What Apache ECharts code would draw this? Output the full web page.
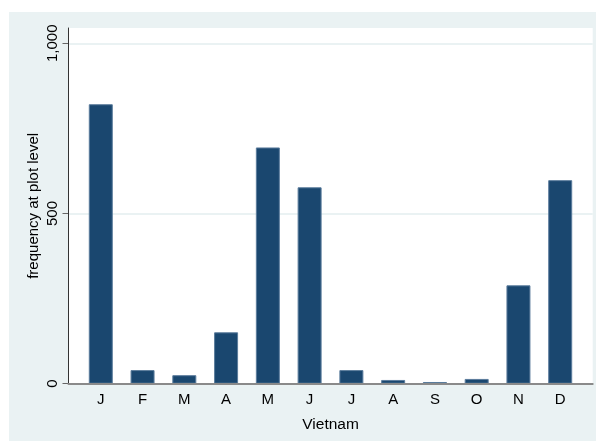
<!DOCTYPE html>
<html>
<head>
<meta charset="utf-8">
<script src="https://cdn.jsdelivr.net/npm/echarts@6/dist/echarts.min.js"></script>
<style>
  html, body { margin: 0; padding: 0; background: #ffffff; }
  #chart { position: absolute; left: 9px; top: 12px; width: 587px; height: 429px; background: #EAF2F3; }
</style>
</head>
<body>
<div id="chart"></div>
<script>
// Monthly frequency at plot level, Vietnam
const months = ['J', 'F', 'M', 'A', 'M', 'J', 'J', 'A', 'S', 'O', 'N', 'D'];
const frequency = [821, 40, 25, 151, 694, 577, 40, 11, 5, 14, 289, 598];
const yTicks = [0, 500, 1000];

const FONT = '"Liberation Sans", Arial, sans-serif';
const chart = echarts.init(document.getElementById('chart'), null, { renderer: 'canvas' });

chart.setOption({
  backgroundColor: 'transparent',
  animation: false,
  grid: [
    // white plot region with the axis frame
    { left: 59.5, top: 16, right: 3.3, bottom: 57.3, show: true, backgroundColor: '#ffffff', borderWidth: 0 },
    // value scale: ticks, labels, gridlines
    { left: 59.5, top: 31.3, right: 3.3, bottom: 57.3 },
    // bars
    { left: 70.9, top: 31.3, right: 14.9, bottom: 57.3 }
  ],
  xAxis: [
    {
      gridIndex: 0, type: 'value', min: 0, max: 1, z: 5,
      axisLine: { show: true, onZero: false, lineStyle: { color: '#8a8a8a', width: 2 } },
      axisTick: { show: false }, axisLabel: { show: false }, splitLine: { show: false },
      name: 'Vietnam', nameLocation: 'middle', nameGap: 33,
      nameTextStyle: { fontFamily: FONT, fontSize: 15.5, color: '#000' }
    },
    { gridIndex: 1, type: 'value', show: false },
    {
      gridIndex: 2, type: 'category', data: months, boundaryGap: true,
      axisLine: { show: false }, axisTick: { show: false },
      axisLabel: { margin: 9, fontFamily: FONT, fontSize: 15, color: '#000' }
    }
  ],
  yAxis: [
    {
      gridIndex: 0, type: 'value', min: 0, max: 1, z: 5,
      axisLine: { show: true, onZero: false, lineStyle: { color: '#333', width: 1 } },
      axisTick: { show: false }, axisLabel: { show: false }, splitLine: { show: false },
      name: 'frequency at plot level', nameLocation: 'middle', nameGap: 27,
      nameTextStyle: { fontFamily: FONT, fontSize: 15, color: '#000' }
    },
    {
      gridIndex: 1, type: 'value', min: yTicks[0], max: yTicks[yTicks.length - 1], interval: 500,
      axisLine: { show: false },
      axisTick: { show: true, length: 6, lineStyle: { color: '#666' } },
      axisLabel: {
        rotate: 90, margin: 8, fontFamily: FONT, fontSize: 15, color: '#000',
        formatter: v => v.toLocaleString('en-US')
      },
      splitLine: { show: true, lineStyle: { color: '#EAF2F3', width: 2 } }
    },
    { gridIndex: 2, type: 'value', min: 0, max: 1000, show: false }
  ],
  series: [
    {
      type: 'bar', xAxisIndex: 2, yAxisIndex: 2, data: frequency,
      barWidth: 24,
      itemStyle: { color: '#1A476F', borderColor: '#5b7c9c', borderWidth: 1 }
    }
  ]
});
</script>
</body>
</html>
